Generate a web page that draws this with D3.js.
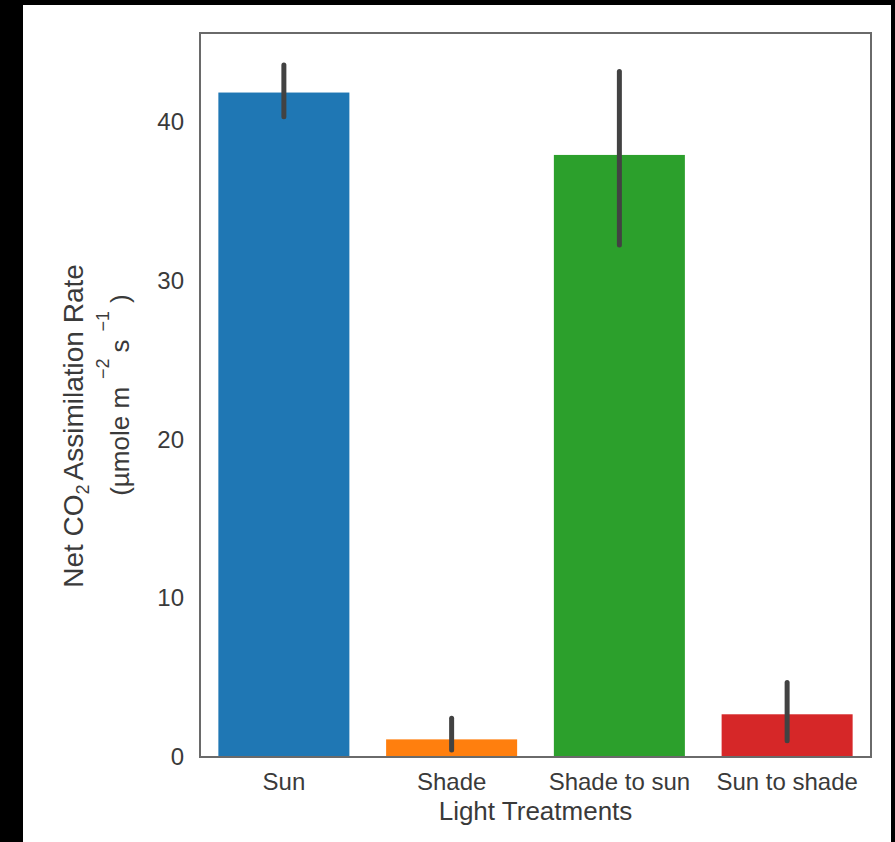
<!DOCTYPE html>
<html>
<head>
<meta charset="utf-8">
<script src="https://cdn.jsdelivr.net/npm/d3@7"></script>
<style>
  html, body { margin: 0; padding: 0; background: #000; }
  svg { display: block; }
  text { font-family: "Liberation Sans", Arial, sans-serif; }
</style>
</head>
<body>
<svg id="chart" width="895" height="842"></svg>
<script>
// Net CO2 assimilation by light treatment (mean with 95% CI)
const categories = ["Sun", "Shade", "Shade to sun", "Sun to shade"];
const meanRate   = [41.85, 1.11, 37.92, 2.69];
const ciLow      = [40.33, 0.44, 32.25, 1.03];
const ciHigh     = [43.59, 2.44, 43.17, 4.70];
const barColors  = ["#1f77b4", "#ff7f0e", "#2ca02c", "#d62728"];
const yTicks     = [0, 10, 20, 30, 40];

const svg = d3.select("#chart");

// white canvas inside the dark border
svg.append("rect")
  .attr("x", 23).attr("y", 5)
  .attr("width", 868).attr("height", 837)
  .attr("fill", "#fff");

const plot = { left: 200, right: 871, top: 33, bottom: 757 };

const x = d3.scaleBand()
  .domain(categories)
  .range([plot.left, plot.right])
  .paddingInner(0.219)
  .paddingOuter(0.1095);

const y = d3.scaleLinear()
  .domain([0, 45.6])
  .range([plot.bottom, plot.top]);

const rows = categories.map((c, i) => ({
  cat: c, mean: meanRate[i], lo: ciLow[i], hi: ciHigh[i], color: barColors[i]
}));

// bars
svg.append("g").selectAll("rect")
  .data(rows)
  .join("rect")
  .attr("x", d => x(d.cat))
  .attr("y", d => y(d.mean))
  .attr("width", x.bandwidth())
  .attr("height", d => y(0) - y(d.mean))
  .attr("fill", d => d.color);

// confidence intervals
svg.append("g").selectAll("line")
  .data(rows)
  .join("line")
  .attr("x1", d => x(d.cat) + x.bandwidth() / 2)
  .attr("x2", d => x(d.cat) + x.bandwidth() / 2)
  .attr("y1", d => y(d.lo))
  .attr("y2", d => y(d.hi))
  .attr("stroke", "#424242")
  .attr("stroke-width", 5)
  .attr("stroke-linecap", "round");

// frame
svg.append("rect")
  .attr("x", plot.left).attr("y", plot.top)
  .attr("width", plot.right - plot.left)
  .attr("height", plot.bottom - plot.top)
  .attr("fill", "none")
  .attr("stroke", "#6a6a6a")
  .attr("stroke-width", 2);

// axes
const yAxis = svg.append("g")
  .attr("transform", `translate(${plot.left},0)`)
  .call(d3.axisLeft(y).tickValues(yTicks).tickSize(0).tickPadding(16));
const xAxis = svg.append("g")
  .attr("transform", `translate(0,${plot.bottom})`)
  .call(d3.axisBottom(x).tickSize(0).tickPadding(16));

[yAxis, xAxis].forEach(g => {
  g.select(".domain").remove();
  g.selectAll("text")
    .attr("font-family", "'Liberation Sans', Arial, sans-serif")
    .attr("font-size", 24)
    .attr("fill", "#3a3a3a");
});

// x-axis title
svg.append("text")
  .attr("x", (plot.left + plot.right) / 2)
  .attr("y", 820)
  .attr("text-anchor", "middle")
  .attr("font-size", 26)
  .attr("fill", "#3a3a3a")
  .text("Light Treatments");

// y-axis title, two lines
const yl1 = svg.append("text")
  .attr("transform", "translate(83,426) rotate(-90)")
  .attr("text-anchor", "middle")
  .attr("font-size", 28)
  .attr("fill", "#3a3a3a");
yl1.append("tspan").text("Net CO");
yl1.append("tspan").attr("font-size", 18).attr("dy", 6).text("2");
yl1.append("tspan").attr("dy", -6).attr("dx", 4).text("Assimilation Rate");

const yl2 = svg.append("text")
  .attr("transform", "translate(129,395) rotate(-90)")
  .attr("text-anchor", "middle")
  .attr("font-size", 26)
  .attr("fill", "#3a3a3a");
yl2.append("tspan").text("(µmole m");
yl2.append("tspan").attr("font-size", 18).attr("dy", -20).attr("dx", 8).text("−2");
yl2.append("tspan").attr("dy", 20).attr("dx", 6).text("s");
yl2.append("tspan").attr("font-size", 18).attr("dy", -20).attr("dx", 8).text("−1");
yl2.append("tspan").attr("dy", 20).attr("dx", 8).text(")");
</script>
</body>
</html>
